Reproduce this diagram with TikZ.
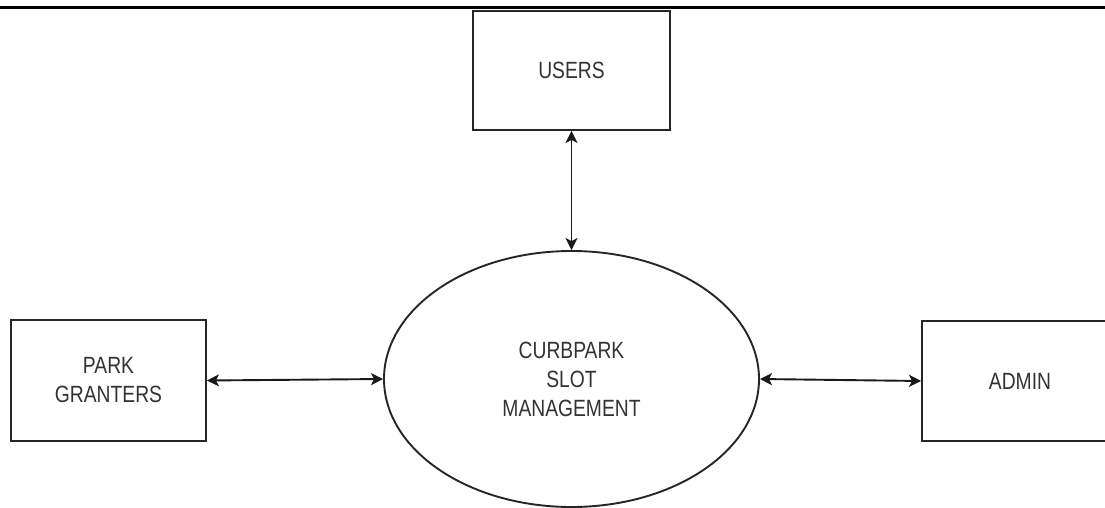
\documentclass[tikz,border=0pt]{standalone}
\usepackage{fontspec}
\setmainfont{Liberation Sans}[FakeStretch=0.82]
\usetikzlibrary{shapes.geometric,arrows.meta}
\definecolor{txt}{HTML}{333333}
\tikzset{
  ent/.style={draw=black!85, line width=1.9pt, minimum width=196pt, minimum height=120pt, inner sep=0pt,
    font=\fontsize{23.5}{29}\selectfont, text=txt, align=center},
  proc/.style={draw=black!85, line width=1.9pt, ellipse, minimum width=375pt, minimum height=256pt, inner sep=0pt,
    font=\fontsize{23.5}{29}\selectfont, text=txt, align=center},
  flow/.style={line width=1.9pt, black!90, {Stealth[length=12pt,width=12pt,inset=3pt]}-{Stealth[length=12pt,width=12pt,inset=3pt]}}
}
\begin{document}
\begin{tikzpicture}[x=1pt,y=-1pt]
\useasboundingbox (0,0) rectangle (1105,508);
\clip (0,0) rectangle (1105,508);
\fill[black] (0,6) rectangle (1105,9.5);
\node[ent, minimum height=119pt, minimum width=197pt] (users) at (571.5,70.5) {USERS};
\node[proc] (cps) at (571.5,379) {CURBPARK\\SLOT\\MANAGEMENT};
\node[ent, minimum height=121pt, minimum width=195pt] (pg) at (108.5,380.5) {PARK\\GRANTERS};
\node[ent] (admin) at (1020,381) {ADMIN};
\draw[flow] (users.south) -- (cps.north);
\draw[flow] (pg.east) -- (cps.west);
\draw[flow] (cps.east) -- (admin.west);
\end{tikzpicture}
\end{document}
